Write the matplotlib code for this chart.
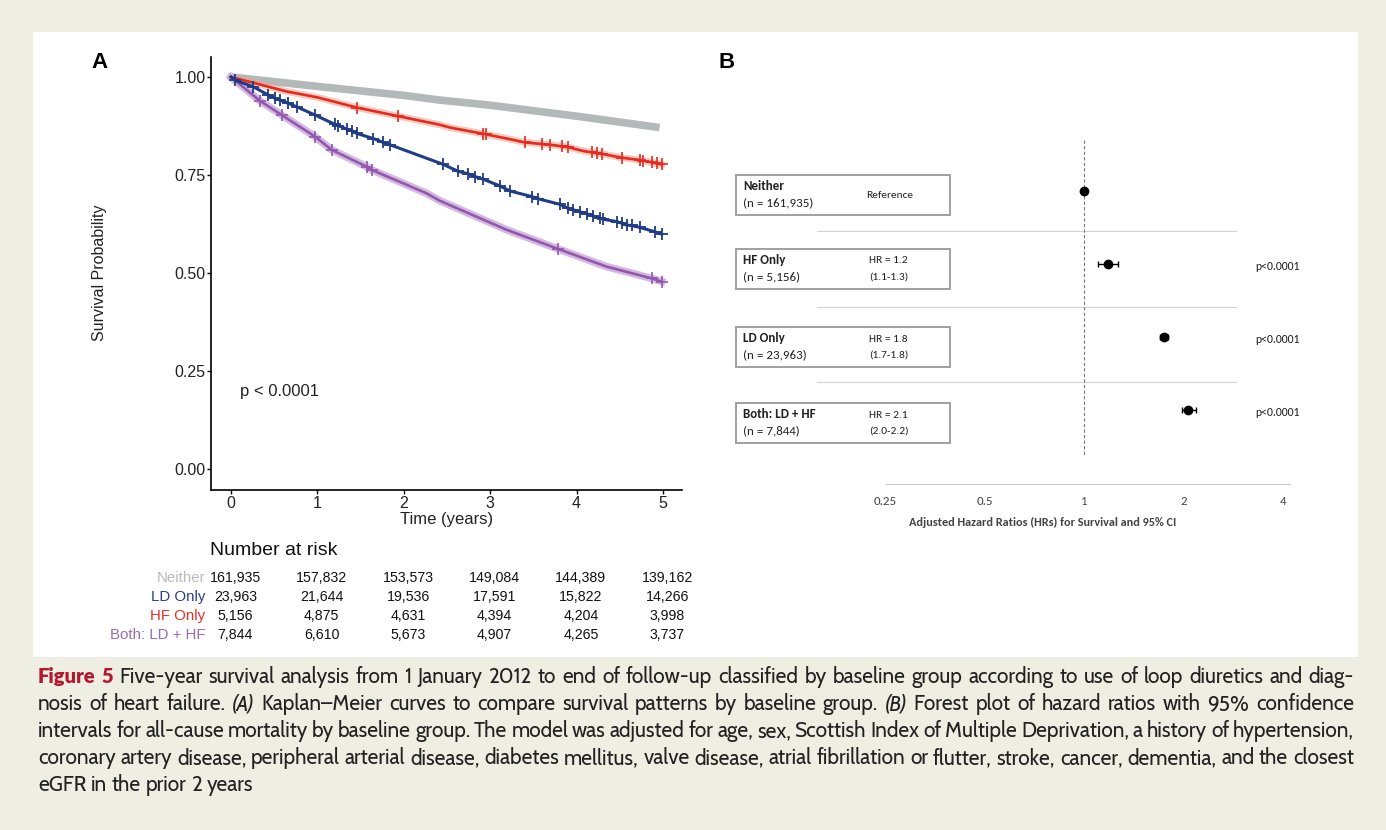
import numpy as np
import matplotlib
matplotlib.use('Agg')
import matplotlib.pyplot as plt
from matplotlib.patches import Rectangle
import matplotlib.transforms as mtransforms
from matplotlib import font_manager

# ---------------- data ----------------
time_ticks = [0, 1, 2, 3, 4, 5]
surv_ticks = [0.0, 0.25, 0.5, 0.75, 1.0]

neither_t = [0.0, 1.0, 2.0, 2.42, 3.0, 4.0, 4.96]
neither_s = [1.0, 0.976, 0.953, 0.941, 0.928, 0.900, 0.871]

hf_t = [0.0, 0.645, 1.0, 1.455, 1.936, 2.419, 2.535, 2.920, 3.191, 3.403, 3.692, 3.904, 4.078,
        4.291, 4.522, 4.734, 4.869, 4.985]
hf_s = [1.0, 0.963, 0.948, 0.922, 0.900, 0.878, 0.871, 0.855, 0.843, 0.833, 0.827, 0.821, 0.811,
        0.804, 0.794, 0.788, 0.782, 0.777]
hf_cens_t = [1.455, 1.936, 2.920, 2.951, 3.403, 3.596, 3.692, 3.827, 3.904, 4.175, 4.233, 4.291,
             4.522, 4.734, 4.772, 4.869, 4.927, 4.985]
hf_cens_s = [0.922, 0.900, 0.855, 0.854, 0.833, 0.829, 0.827, 0.824, 0.821, 0.808, 0.805, 0.804,
             0.794, 0.788, 0.786, 0.782, 0.780, 0.777]

ld_cens_t = [0.046, 0.258, 0.432, 0.509, 0.567, 0.663, 0.760, 0.972, 1.204, 1.242, 1.339, 1.397,
             1.455, 1.647, 1.763, 1.840, 2.457, 2.631, 2.747, 2.824, 2.920, 3.113, 3.229, 3.480,
             3.557, 3.808, 3.904, 3.962, 4.039, 4.117, 4.193, 4.271, 4.309, 4.464, 4.522, 4.580,
             4.638, 4.734, 4.907, 4.985]
ld_cens_s = [0.992, 0.975, 0.954, 0.946, 0.941, 0.933, 0.924, 0.903, 0.879, 0.876, 0.867, 0.863,
             0.856, 0.843, 0.833, 0.827, 0.777, 0.759, 0.753, 0.746, 0.739, 0.722, 0.709, 0.695,
             0.689, 0.675, 0.665, 0.661, 0.656, 0.651, 0.645, 0.640, 0.637, 0.631, 0.627, 0.622,
             0.621, 0.616, 0.605, 0.599]
ld_t = [0.0] + ld_cens_t
ld_s = [1.0] + ld_cens_s

both_t = [0.0, 0.336, 0.587, 0.972, 1.166, 1.571, 1.628, 2.265, 2.419, 3.191, 3.788, 4.348, 4.869, 4.985]
both_s = [1.0, 0.939, 0.903, 0.848, 0.814, 0.771, 0.763, 0.703, 0.684, 0.610, 0.561, 0.516, 0.486, 0.478]
both_cens_t = [0.336, 0.587, 0.972, 1.166, 1.571, 1.628, 3.788, 4.869, 4.985]
both_cens_s = [0.939, 0.903, 0.848, 0.814, 0.771, 0.763, 0.561, 0.486, 0.478]

risk_groups = ['Neither', 'LD Only', 'HF Only', 'Both: LD + HF']
risk_neither = [161935, 157832, 153573, 149084, 144389, 139162]
risk_ld = [23963, 21644, 19536, 17591, 15822, 14266]
risk_hf = [5156, 4875, 4631, 4394, 4204, 3998]
risk_both = [7844, 6610, 5673, 4907, 4265, 3737]

forest_groups = ['Neither', 'HF Only', 'LD Only', 'Both: LD + HF']
forest_n = ['(n = 161,935)', '(n = 5,156)', '(n = 23,963)', '(n = 7,844)']
forest_hr_text = ['Reference', 'HR = 1.2', 'HR = 1.8', 'HR = 2.1']
forest_ci_text = ['', '(1.1-1.3)', '(1.7-1.8)', '(2.0-2.2)']
forest_hr = [1.0, 1.18, 1.74, 2.07]
forest_lo = [1.0, 1.10, 1.70, 1.98]
forest_hi = [1.0, 1.27, 1.79, 2.18]
forest_p = ['', 'p<0.0001', 'p<0.0001', 'p<0.0001']
hr_ticks = [0.25, 0.5, 1, 2, 4]
hr_ticklabels = ['0.25', '0.5', '1', '2', '4']
hr_xlabel = 'Adjusted Hazard Ratios (HRs) for Survival and 95% CI'

caption_lines = [
    "Figure 5 Five-year survival analysis from 1 January 2012 to end of follow-up classified by baseline group according to use of loop diuretics and diag-",
    "nosis of heart failure. (A) Kaplan\u2013Meier curves to compare survival patterns by baseline group. (B) Forest plot of hazard ratios with 95% confidence",
    "intervals for all-cause mortality by baseline group. The model was adjusted for age, sex, Scottish Index of Multiple Deprivation, a history of hypertension,",
    "coronary artery disease, peripheral arterial disease, diabetes mellitus, valve disease, atrial fibrillation or flutter, stroke, cancer, dementia, and the closest",
    "eGFR in the prior 2 years",
]

# ---------------- layout helpers ----------------
W, H = 1386, 830
def fx(p): return p / W
def fy(p): return 1 - p / H

BEIGE = '#eeeee2'
C_GRAY = '#b3b8b8'
C_RED = '#e62a1f'
C_BLUE = '#1f3c86'
C_PURP = '#9457ae'

fonts = font_manager.fontManager.ttflist
fams = set(f.name for f in fonts)
def pick(*names):
    for n in names:
        if n in fams:
            return n
    return 'DejaVu Sans'
def has_bold(name):
    return any(f.name == name and (f.weight in ('bold', 'heavy', 'black', 'extra bold', 'semibold')
               or (isinstance(f.weight, int) and f.weight >= 600)) for f in fonts)

AF = pick('Liberation Sans', 'Arimo')
BF = pick('Carlito', 'Lato')
CF = pick('Cabin', 'Gillius ADF', 'PT Sans', 'Lato')
CFB = CF if has_bold(CF) else pick('Lato', 'Open Sans')

fig = plt.figure(figsize=(W / 100, H / 100), dpi=100, facecolor=BEIGE)
fig.patches.append(Rectangle((fx(33), fy(657)), fx(1358) - fx(33), fy(32) - fy(657),
                             transform=fig.transFigure, facecolor='white', edgecolor='none', zorder=-5))
renderer = fig.canvas.get_renderer()

def measure(s, size, **kw):
    t = fig.text(0, 0, s, fontsize=size, **kw)
    w = t.get_window_extent(renderer).width
    t.remove()
    return w

def fit(s, target_px, **kw):
    return 10.0 * target_px / measure(s, 10.0, **kw)

# ---------------- Panel A ----------------
axA = fig.add_axes([fx(211), fy(490), fx(682) - fx(211), fy(57) - fy(490)])
axA.set_facecolor('none')
axA.set_xlim(-0.231, 5.22)
axA.set_ylim(-0.054, 1.051)
for sp in ['top', 'right']:
    axA.spines[sp].set_visible(False)
for sp in ['left', 'bottom']:
    axA.spines[sp].set_linewidth(1.2)
axA.set_xticks(time_ticks)
axA.set_xticklabels([str(t) for t in time_ticks], fontsize=11.5, family=AF, color='#222')
axA.set_yticks(surv_ticks)
axA.set_yticklabels(['%.2f' % v for v in surv_ticks], fontsize=11.5, family=AF, color='#222')
axA.tick_params(length=3, width=1, pad=1)

axA.plot(neither_t, neither_s, color=C_GRAY, lw=5.5, solid_capstyle='butt', zorder=2)
axA.plot(hf_t, hf_s, color='#f5a08c', lw=5, alpha=0.55, zorder=3)
axA.plot(hf_t, hf_s, color=C_RED, lw=1.9, zorder=4)
axA.plot(hf_cens_t, hf_cens_s, ls='none', marker='+', ms=8, mew=1.2, color=C_RED, zorder=4)
axA.plot(both_t, both_s, color='#cdaedd', lw=5.5, alpha=0.85, zorder=3)
axA.plot(both_t, both_s, color=C_PURP, lw=1.9, zorder=4)
axA.plot(both_cens_t, both_cens_s, ls='none', marker='+', ms=8, mew=1.2, color=C_PURP, zorder=4)
axA.plot(ld_t, ld_s, color=C_BLUE, lw=2.2, zorder=5)
axA.plot(ld_cens_t, ld_cens_s, ls='none', marker='+', ms=8, mew=1.3, color=C_BLUE, zorder=5)

axA.text(0.11, 0.197, 'p < 0.0001', fontsize=12, family=AF, va='center', ha='left', color='#222')
axA.set_xlabel('Time (years)', fontsize=12, family=AF, labelpad=1, color='#222')
fig.text(fx(100), fy(273), 'Survival Probability', rotation=90, fontsize=11.5, family=AF,
         ha='center', va='center', color='#222')
fig.text(fx(100), fy(62), 'A', fontsize=16, weight='bold', family=AF, ha='center', va='center')
fig.text(fx(727), fy(62), 'B', fontsize=16, weight='bold', family=AF, ha='center', va='center')

# Number at risk
fig.text(fx(210), fy(550), 'Number at risk', fontsize=14, family=AF, ha='left', va='center', color='#111')
blend = mtransforms.blended_transform_factory(axA.transData, fig.transFigure)
risk_colors = ['#b9bbbd', '#2c3f8c', '#e23028', '#9a6bb0']
risk_rows = [risk_neither, risk_ld, risk_hf, risk_both]
row_y = [578, 597, 616, 635]
for g, col, vals, yy in zip(risk_groups, risk_colors, risk_rows, row_y):
    fig.text(fx(205), fy(yy), g, fontsize=10.8, family=AF, color=col, ha='right', va='center')
    for t, v in zip(time_ticks, vals):
        axA.text(t + 0.05, fy(yy), '{:,}'.format(v), transform=blend, fontsize=10.2, family=AF,
                 ha='center', va='center', color='#111', clip_on=False)

# ---------------- Panel B ----------------
s_box = fit('(n = 161,935)', 70, family=BF)
s_hr = fit('Reference', 47, family=BF)
s_p = fit('p<0.0001', 45, family=BF)
s_tick = fit('0.25', 23, family=BF)
s_lab = fit(hr_xlabel, 268, family=BF, weight='bold')

axB = fig.add_axes([fx(700), fy(540), fx(1330) - fx(700), fy(130) - fy(540)])
axB.set_facecolor('none')
axB.set_xscale('log', base=2)
axB.set_xlim(2 ** ((700 - 1084) / 99.5), 2 ** ((1330 - 1084) / 99.5))
axB.set_ylim(-4.78, 0.836)
for sp in ['left', 'top', 'right']:
    axB.spines[sp].set_visible(False)
axB.spines['bottom'].set_position(('data', -4.01))
axB.spines['bottom'].set_color('#c8c8c8')
axB.spines['bottom'].set_bounds(0.252, 4.2)
axB.set_yticks([])
axB.set_xticks(hr_ticks)
axB.set_xticklabels(hr_ticklabels, fontsize=s_tick, family=BF, color='#444')
axB.xaxis.set_minor_locator(matplotlib.ticker.NullLocator())
axB.tick_params(axis='x', length=0, pad=9)
fig.text(fx(1043), fy(522), hr_xlabel, fontsize=s_lab, family=BF, weight='bold', color='#444',
         ha='center', va='center')

rows = [0, -1, -2, -3]
box_offsets = [-0.055, -0.068, -0.137, -0.178]
sep_y = [-0.55, -1.59, -2.62]
axB.plot([1, 1], [0.70, -3.62], color='#777', lw=0.8, ls=(0, (3, 2)), zorder=2)
bl = mtransforms.blended_transform_factory(axB.transAxes, axB.transData)
for yy in sep_y:
    axB.plot([0.185, 0.85], [yy, yy], transform=bl, color='#d2d2d2', lw=0.8, zorder=1)

for i, r in enumerate(rows):
    yc = r + box_offsets[i]
    axB.add_patch(Rectangle((0.057, yc - 0.275), 0.34, 0.55, transform=bl, facecolor='white',
                            edgecolor='#a0a0a0', lw=1.4, zorder=3, clip_on=False))
    axB.text(0.068, yc + 0.12, forest_groups[i], transform=bl, fontsize=s_box, weight='bold',
             family=BF, ha='left', va='center', color='#222', zorder=4)
    axB.text(0.068, yc - 0.11, forest_n[i], transform=bl, fontsize=s_box, family=BF,
             ha='left', va='center', color='#222', zorder=4)
    if forest_ci_text[i]:
        axB.text(0.268, yc + 0.11, forest_hr_text[i], transform=bl, fontsize=s_hr, family=BF,
                 ha='left', va='center', color='#222', zorder=4)
        axB.text(0.268, yc - 0.11, forest_ci_text[i], transform=bl, fontsize=s_hr, family=BF,
                 ha='left', va='center', color='#222', zorder=4)
    else:
        axB.text(0.263, yc, forest_hr_text[i], transform=bl, fontsize=s_hr, family=BF,
                 ha='left', va='center', color='#222', zorder=4)
    if forest_p[i]:
        axB.text(0.881, r - 0.04, forest_p[i], transform=bl, fontsize=s_p, family=BF,
                 ha='left', va='center', color='#222', zorder=4)

xerr = [np.array(forest_hr) - np.array(forest_lo), np.array(forest_hi) - np.array(forest_hr)]
axB.errorbar(forest_hr, rows, xerr=xerr, fmt='o', color='black', ms=6, elinewidth=1,
             capsize=2.5, capthick=1, zorder=5)

# ---------------- Caption ----------------
x0, x1 = 38, 1354
baselines = [683, 710, 737, 764, 791]

def line_styles(li, words, size):
    styles = []
    for k, w in enumerate(words):
        if li == 0 and k < 2:
            styles.append(dict(family=CFB, weight='heavy', color='#b3182f', fontsize=size * 0.97))
        elif w in ('(A)', '(B)'):
            styles.append(dict(family=CF, style='italic', color='#222', fontsize=size))
        else:
            styles.append(dict(family=CF, color='#222', fontsize=size))
    return styles

def measure2(s, st):
    t = fig.text(0, 0, s, **st)
    w = t.get_window_extent(renderer).width
    t.remove()
    return w

base = 10.0
sp_base = measure('a a', base, family=CF) - measure('aa', base, family=CF)
nat = []
for li, line in enumerate(caption_lines[:4]):
    words = line.split(' ')
    st = line_styles(li, words, base)
    ww = sum(measure2(w, s) for w, s in zip(words, st))
    nat.append(ww + sp_base * 0.8 * (len(words) - 1))
size = base * (x1 - x0) / max(nat)

space_w = measure('a a', size, family=CF) - measure('aa', size, family=CF)
for li, line in enumerate(caption_lines):
    words = line.split(' ')
    styles = line_styles(li, words, size)
    widths = [measure2(w, s) for w, s in zip(words, styles)]
    if li < len(caption_lines) - 1:
        gap = (x1 - x0 - sum(widths)) / (len(words) - 1)
    else:
        gap = space_w
    x = x0
    for w, s, wd in zip(words, styles, widths):
        fig.text(fx(x), fy(baselines[li]), w, ha='left', va='baseline', **s)
        x += wd + gap

fig.savefig('out.png', dpi=100, facecolor=BEIGE)
